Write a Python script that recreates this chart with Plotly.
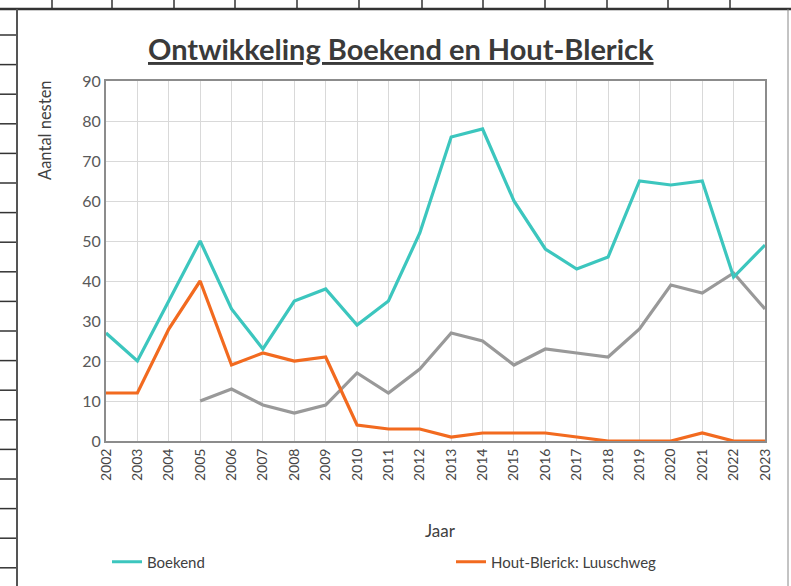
import plotly.graph_objects as go

years = list(range(2002, 2024))
year_labels = [str(y) for y in years]
boekend = [27, 20, 35, 50, 33, 23, 35, 38, 29, 35, 52, 76, 78, 60, 48, 43, 46, 65, 64, 65, 41, 49]
luuschweg = [12, 12, 28, 40, 19, 22, 20, 21, 4, 3, 3, 1, 2, 2, 2, 1, 0, 0, 0, 2, 0, 0]
grey_series = [None, None, None, 10, 13, 9, 7, 9, 17, 12, 18, 27, 25, 19, 23, 22, 21, 28, 39, 37, 42, 33]
y_ticks = [0, 10, 20, 30, 40, 50, 60, 70, 80, 90]

W, H = 791, 586
L, R, T, B = 106, 765, 81, 441


def px(x):
    return (x - L) / (R - L)


def py(y):
    return (B - y) / (B - T)


fig = go.Figure()
fig.add_trace(go.Scatter(x=years, y=grey_series, mode="lines", name="Overig",
                         line=dict(color="#999999", width=3.2), showlegend=False))
fig.add_trace(go.Scatter(x=years, y=luuschweg, mode="lines", name="Hout-Blerick: Luuschweg",
                         line=dict(color="#F26A1F", width=3.2), legend="legend2"))
fig.add_trace(go.Scatter(x=years, y=boekend, mode="lines", name="Boekend",
                         line=dict(color="#3CC6BE", width=3.2), legend="legend"))

shapes = []
# spreadsheet grid behind the chart
for xv in [52, 112, 174, 235, 297, 359, 422, 483, 545, 607, 668, 730]:
    shapes.append(dict(type="line", xref="paper", yref="paper", x0=px(xv), x1=px(xv),
                       y0=py(0), y1=py(9), line=dict(color="#333333", width=1.5), layer="below"))
yv = 35.0
while yv < H:
    shapes.append(dict(type="line", xref="paper", yref="paper", x0=px(0), x1=px(17),
                       y0=py(yv), y1=py(yv), line=dict(color="#333333", width=1.5), layer="below"))
    yv += 29.6
# chart frame
shapes.append(dict(type="line", xref="paper", yref="paper", x0=px(0), x1=px(W),
                   y0=py(9), y1=py(9), line=dict(color="#333333", width=2.5)))
shapes.append(dict(type="line", xref="paper", yref="paper", x0=px(17), x1=px(17),
                   y0=py(9), y1=py(H), line=dict(color="#555555", width=2)))
shapes.append(dict(type="line", xref="paper", yref="paper", x0=px(788), x1=px(788),
                   y0=py(9), y1=py(H), line=dict(color="#888888", width=1)))

annotations = [
    dict(text="<b><u>Ontwikkeling Boekend en Hout-Blerick</u></b>", x=px(401), y=py(48),
         xref="paper", yref="paper", showarrow=False, xanchor="center", yanchor="middle",
         font=dict(family="Lato, Open Sans, sans-serif", size=29, color="#3a3a3a")),
    dict(text="Aantal nesten", x=px(45), y=py(130), xref="paper", yref="paper", showarrow=False,
         textangle=-90, xanchor="center", yanchor="middle",
         font=dict(family="Lato, Open Sans, sans-serif", size=16.5, color="#404040")),
    dict(text="Jaar", x=px(440), y=py(530), xref="paper", yref="paper", showarrow=False,
         xanchor="center", yanchor="middle",
         font=dict(family="Lato, Open Sans, sans-serif", size=17, color="#404040")),
]

legend_style = dict(orientation="h", xanchor="left", yanchor="middle",
                    font=dict(size=15, color="#404040"), bgcolor="rgba(0,0,0,0)")

fig.update_layout(
    width=W, height=H,
    margin=dict(l=L, r=W - R, t=T, b=H - B, autoexpand=False),
    paper_bgcolor="white", plot_bgcolor="white",
    font=dict(family="Lato, Open Sans, sans-serif", color="#595959"),
    shapes=shapes, annotations=annotations,
    legend=dict(x=px(107), y=py(562), **legend_style),
    legend2=dict(x=px(451), y=py(562), **legend_style),
    xaxis=dict(range=[2002, 2023], tickvals=years, ticktext=year_labels, tickangle=-90,
               showgrid=True, gridcolor="#d9d9d9", gridwidth=1.2,
               showline=True, linecolor="#8c8c8c", linewidth=2, mirror=True,
               ticks="", tickfont=dict(size=14, color="#454545"), zeroline=False),
    yaxis=dict(range=[0, 90], tickvals=y_ticks, showgrid=True, gridcolor="#d9d9d9", gridwidth=1.2,
               showline=True, linecolor="#8c8c8c", linewidth=2, mirror=True,
               ticks="", tickfont=dict(size=16, color="#595959"), zeroline=False),
)

fig.write_html("out.html", config={"displayModeBar": False},
               post_script="document.body.style.margin='0';document.body.style.overflow='hidden';")
